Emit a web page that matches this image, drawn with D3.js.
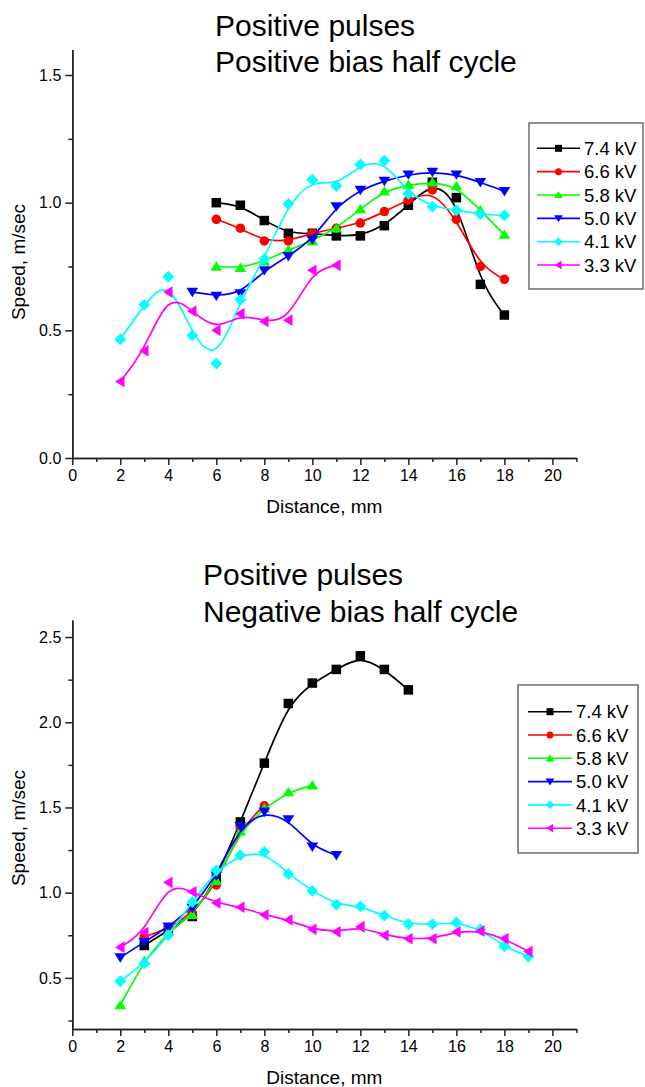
<!DOCTYPE html>
<html>
<head>
<meta charset="utf-8">
<script src="https://cdn.jsdelivr.net/npm/d3@7"></script>
<style>
  html, body { margin: 0; padding: 0; background: #fff; }
  svg { display: block; }
  text { font-family: "Liberation Sans", Arial, sans-serif; fill: #000; }
</style>
</head>
<body>
<svg id="fig" width="645" height="1087"></svg>
<script>
// ---- Series labels and colours ----
const seriesLabels = ["7.4 kV", "6.6 kV", "5.8 kV", "5.0 kV", "4.1 kV", "3.3 kV"];
const seriesColors = ["#000000", "#ff0000", "#00ff00", "#0000ff", "#00ffff", "#ff00ff"];
const seriesMarkers = ["square", "circle", "triangleUp", "triangleDown", "diamond", "triangleLeft"];

// ---- Upper panel: positive bias half cycle ----
const posDist74 = [6, 7, 8, 9, 10, 11, 12, 13, 14, 15, 16, 17, 18];
const posSpeed74 = [1.00, 0.99, 0.93, 0.88, 0.88, 0.87, 0.87, 0.91, 0.99, 1.08, 1.02, 0.68, 0.56];
const posDist66 = [6, 7, 8, 9, 10, 11, 12, 13, 14, 15, 16, 17, 18];
const posSpeed66 = [0.935, 0.90, 0.85, 0.85, 0.88, 0.90, 0.92, 0.965, 1.01, 1.05, 0.935, 0.75, 0.70];
const posDist58 = [6, 7, 8, 9, 10, 11, 12, 13, 14, 15, 16, 17, 18];
const posSpeed58 = [0.75, 0.745, 0.77, 0.815, 0.85, 0.90, 0.975, 1.045, 1.07, 1.08, 1.065, 0.97, 0.875];
const posDist50 = [5, 6, 7, 8, 9, 10, 11, 12, 13, 14, 15, 16, 17, 18];
const posSpeed50 = [0.65, 0.635, 0.645, 0.735, 0.79, 0.855, 0.985, 1.05, 1.085, 1.11, 1.12, 1.11, 1.08, 1.045];
const posDist41 = [2, 3, 4, 5, 6, 7, 8, 9, 10, 11, 12, 13, 14, 15, 16, 17, 18];
const posSpeed41 = [0.465, 0.60, 0.71, 0.48, 0.37, 0.62, 0.78, 0.995, 1.09, 1.065, 1.15, 1.165, 1.035, 0.985, 0.97, 0.955, 0.95];
const posDist33 = [2, 3, 4, 5, 6, 7, 8, 9, 10, 11];
const posSpeed33 = [0.30, 0.42, 0.65, 0.575, 0.50, 0.565, 0.535, 0.54, 0.735, 0.755];

// ---- Lower panel: negative bias half cycle ----
const negDist74 = [3, 4, 5, 6, 7, 8, 9, 10, 11, 12, 13, 14];
const negSpeed74 = [0.69, 0.78, 0.86, 1.08, 1.415, 1.76, 2.11, 2.23, 2.31, 2.39, 2.31, 2.19];
const negDist66 = [3, 4, 5, 6, 7, 8];
const negSpeed66 = [0.74, 0.79, 0.88, 1.045, 1.38, 1.51];
const negDist58 = [2, 3, 4, 5, 6, 7, 8, 9, 10];
const negSpeed58 = [0.34, 0.60, 0.77, 0.87, 1.07, 1.36, 1.495, 1.59, 1.63];
const negDist50 = [2, 3, 4, 5, 6, 7, 8, 9, 10, 11];
const negSpeed50 = [0.62, 0.71, 0.80, 0.91, 1.10, 1.39, 1.475, 1.43, 1.27, 1.22];
const negDist41 = [2, 3, 4, 5, 6, 7, 8, 9, 10, 11, 12, 13, 14, 15, 16, 17, 18, 19];
const negSpeed41 = [0.48, 0.585, 0.75, 0.945, 1.13, 1.22, 1.24, 1.11, 1.01, 0.93, 0.92, 0.865, 0.815, 0.815, 0.825, 0.785, 0.685, 0.625];
const negDist33 = [2, 3, 4, 5, 6, 7, 8, 9, 10, 11, 12, 13, 14, 15, 16, 17, 18, 19];
const negSpeed33 = [0.68, 0.765, 1.06, 1.005, 0.94, 0.915, 0.87, 0.84, 0.785, 0.77, 0.80, 0.75, 0.73, 0.73, 0.77, 0.775, 0.73, 0.655];

// ---- Axis ticks ----
const xMajorTicks = [0, 2, 4, 6, 8, 10, 12, 14, 16, 18, 20];
const xMinorTicks = [1, 3, 5, 7, 9, 11, 13, 15, 17, 19, 21];
const posYMajorTicks = [0.0, 0.5, 1.0, 1.5];
const posYMinorTicks = [0.25, 0.75, 1.25];
const negYMajorTicks = [0.5, 1.0, 1.5, 2.0, 2.5];
const negYMinorTicks = [0.25, 0.75, 1.25, 1.75, 2.25];

const xTitle = "Distance, mm";
const yTitle = "Speed, m/sec";

const svg = d3.select("#fig");

// Marker path builders, centred on (0,0)
function markerPath(kind, s) {
  const h = s / 2;
  switch (kind) {
    case "square": return `M${-h},${-h}H${h}V${h}H${-h}Z`;
    case "circle": return `M${h},0A${h},${h} 0 1,1 ${-h},0A${h},${h} 0 1,1 ${h},0Z`;
    case "triangleUp": { const w = s * 0.62, t = s * 0.55; return `M0,${-t}L${w},${t * 0.8}L${-w},${t * 0.8}Z`; }
    case "triangleDown": { const w = s * 0.62, t = s * 0.55; return `M0,${t}L${w},${-t * 0.8}L${-w},${-t * 0.8}Z`; }
    case "triangleLeft": { const w = s * 0.62, t = s * 0.55; return `M${-t},0L${t * 0.8},${-w}L${t * 0.8},${w}Z`; }
    case "diamond": { const r = s * 0.62; return `M0,${-r}L${r},0L0,${r}L${-r},0Z`; }
  }
}

function drawPanel(cfg) {
  const x = d3.scaleLinear().domain([0, 21]).range([72.3, 576.4]);
  const y = d3.scaleLinear().domain(cfg.yDomain).range(cfg.yRange);
  const g = svg.append("g");

  // Axes: major ticks with labels, minor ticks without
  const xMajor = d3.axisBottom(x).tickValues(xMajorTicks).tickSize(7).tickSizeOuter(0).tickPadding(5).tickFormat(d3.format("d"));
  const xMinor = d3.axisBottom(x).tickValues(xMinorTicks).tickSize(4).tickSizeOuter(0).tickFormat("");
  const yMajor = d3.axisLeft(y).tickValues(cfg.yMajor).tickSize(7).tickSizeOuter(0).tickPadding(4).tickFormat(d3.format(".1f"));
  const yMinor = d3.axisLeft(y).tickValues(cfg.yMinor).tickSize(4).tickSizeOuter(0).tickFormat("");

  const axisY0 = cfg.yRange[0];
  [xMajor, xMinor].forEach(a => {
    g.append("g").attr("transform", `translate(0,${axisY0})`).call(a);
  });
  [yMajor, yMinor].forEach(a => {
    g.append("g").attr("transform", `translate(${x(0)},0)`).call(a);
  });
  g.selectAll(".domain, .tick line").attr("stroke", "#222").attr("stroke-width", 1.5);
  g.selectAll(".tick text").attr("font-family", "Liberation Sans, Arial, sans-serif").attr("font-size", 16).attr("fill", "#000");

  // Axis titles
  g.append("text")
    .attr("x", (x(0) + x(21)) / 2).attr("y", axisY0 + 55)
    .attr("text-anchor", "middle").attr("font-size", 19).text(xTitle);
  g.append("text")
    .attr("transform", `translate(25,${cfg.yTitleMid}) rotate(-90)`)
    .attr("text-anchor", "middle").attr("font-size", 19).text(yTitle);

  // Panel title
  cfg.title.forEach((t, i) => {
    g.append("text").attr("x", cfg.titleX).attr("y", cfg.titleY[i])
      .attr("font-size", 30).text(t);
  });

  // Series: smoothed line then markers
  const line = d3.line().x(d => x(d[0])).y(d => y(d[1])).curve(d3.curveBasis);
  cfg.series.forEach((s, i) => {
    const pts = s.dist.map((d, j) => [d, s.speed[j]]);
    g.append("path").datum(pts)
      .attr("d", line).attr("fill", "none")
      .attr("stroke", seriesColors[i]).attr("stroke-width", 1.7);
    g.append("g").selectAll("path").data(pts).join("path")
      .attr("transform", d => `translate(${x(d[0])},${y(d[1])})`)
      .attr("d", markerPath(seriesMarkers[i], 9.5))
      .attr("fill", seriesColors[i]);
  });

  // Legend
  const L = cfg.legend;
  g.append("rect").attr("x", L.x).attr("y", L.y).attr("width", L.w).attr("height", L.h)
    .attr("fill", "#fff").attr("stroke", "#555").attr("stroke-width", 1.3);
  seriesLabels.forEach((lab, i) => {
    const cy = L.firstRow + i * L.rowStep;
    g.append("line").attr("x1", L.lineX0).attr("x2", L.lineX1).attr("y1", cy).attr("y2", cy)
      .attr("stroke", seriesColors[i]).attr("stroke-width", 1.6);
    g.append("path").attr("transform", `translate(${(L.lineX0 + L.lineX1) / 2},${cy})`)
      .attr("d", markerPath(seriesMarkers[i], 7)).attr("fill", seriesColors[i]);
    g.append("text").attr("x", L.textX).attr("y", cy).attr("dy", "0.36em")
      .attr("font-size", 18.5).text(lab);
  });
}

drawPanel({
  yDomain: [0, 1.6], yRange: [458, 49.5],
  yMajor: posYMajorTicks, yMinor: posYMinorTicks,
  yTitleMid: 262,
  title: ["Positive pulses", "Positive bias half cycle"], titleX: 215, titleY: [36, 72],
  series: [
    { dist: posDist74, speed: posSpeed74 },
    { dist: posDist66, speed: posSpeed66 },
    { dist: posDist58, speed: posSpeed58 },
    { dist: posDist50, speed: posSpeed50 },
    { dist: posDist41, speed: posSpeed41 },
    { dist: posDist33, speed: posSpeed33 }
  ],
  legend: { x: 529, y: 123, w: 114, h: 166, firstRow: 148.3, rowStep: 23.35, lineX0: 537, lineX1: 580, textX: 584 }
});

drawPanel({
  yDomain: [0.2, 2.6], yRange: [1029, 620],
  yMajor: negYMajorTicks, yMinor: negYMinorTicks,
  yTitleMid: 828,
  title: ["Positive pulses", "Negative bias half cycle"], titleX: 203, titleY: [585, 622],
  series: [
    { dist: negDist74, speed: negSpeed74 },
    { dist: negDist66, speed: negSpeed66 },
    { dist: negDist58, speed: negSpeed58 },
    { dist: negDist50, speed: negSpeed50 },
    { dist: negDist41, speed: negSpeed41 },
    { dist: negDist33, speed: negSpeed33 }
  ],
  legend: { x: 518, y: 685, w: 120, h: 168, firstRow: 711.7, rowStep: 23.3, lineX0: 528, lineX1: 572, textX: 576 }
});
</script>
</body>
</html>
